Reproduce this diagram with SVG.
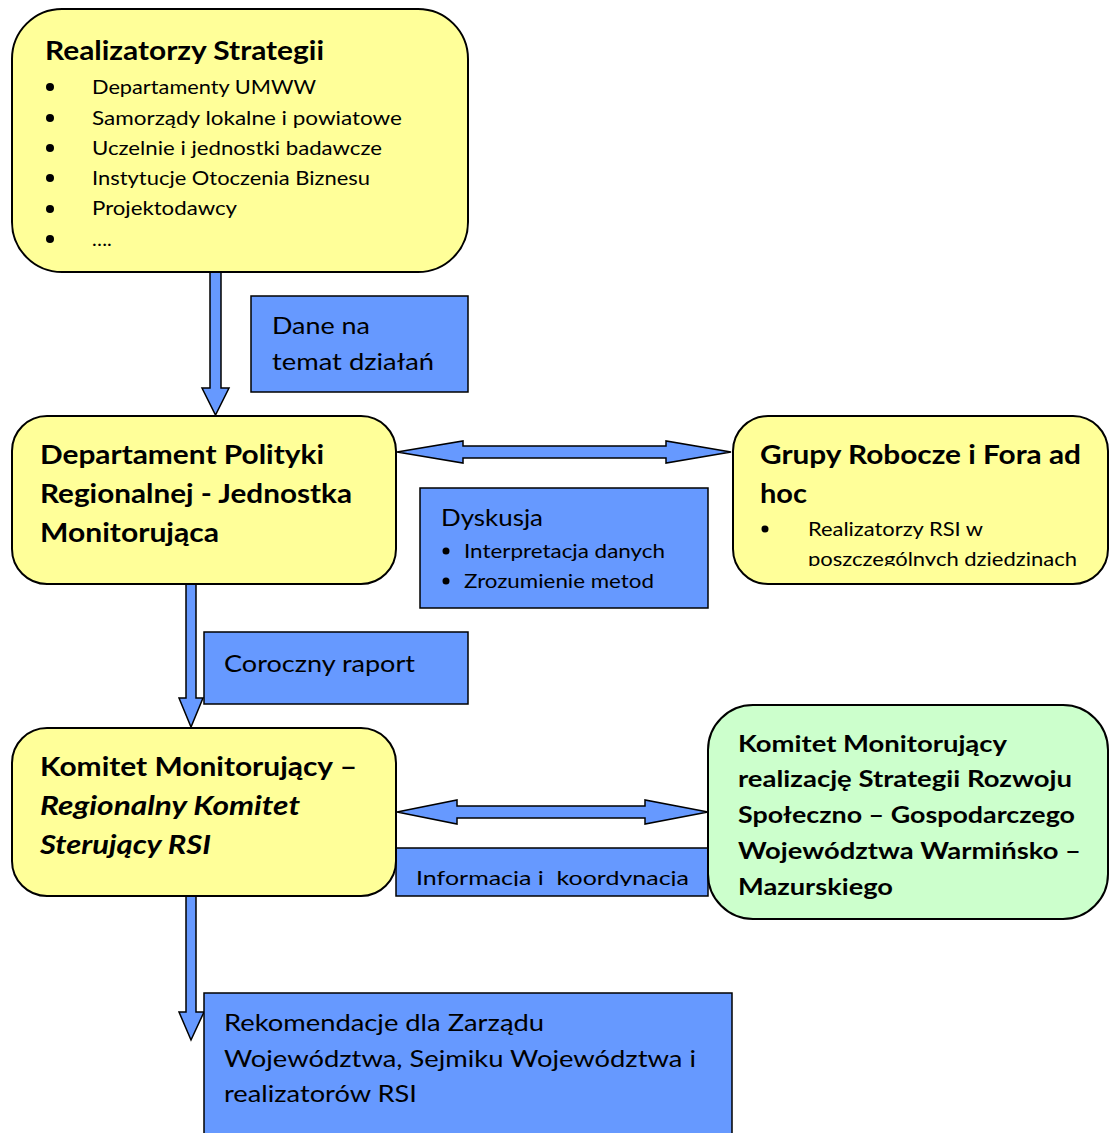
<svg xmlns="http://www.w3.org/2000/svg" width="1109" height="1133" viewBox="0 0 1109 1133">
<style>
.y{fill:#FFFF99;stroke:#000;stroke-width:2}
.g{fill:#CCFFCC;stroke:#000;stroke-width:2}
.b{fill:#6699FF;stroke:#000;stroke-width:1.5}
.ar{fill:#6699FF;stroke:#000;stroke-width:1.5;stroke-linejoin:miter}
text{font-family:Lato,"Open Sans","DejaVu Sans",sans-serif;fill:#000}
.t{font-weight:bold;font-size:26px}
.ti{font-weight:bold;font-style:italic;font-size:26px}
.l{font-size:20px}
.m{font-size:23px}
.gt{font-weight:bold;font-size:23px}
</style>
<defs>
<clipPath id="c3"><rect x="700" y="400" width="409" height="166"/></clipPath>
<clipPath id="c6"><rect x="380" y="840" width="340" height="46"/></clipPath>
</defs>
<g id="connectors">
<polygon class="ar" points="210,272 221,272 221,388 229,388 215.5,415 202,388 210,388"/>
<polygon class="ar" points="186,584 196,584 196,698 203,698 191,727 179,698 186,698"/>
<polygon class="ar" points="186,896 196,896 196,1012 204,1012 191,1040 179,1012 186,1012"/>
<polygon class="ar" points="397,452 463,441 463,446 666,446 666,441 731,452 666,463 666,458 463,458 463,463"/>
<polygon class="ar" points="397,812 457,800 457,806 645,806 645,800 708,812 645,824 645,818 457,818 457,824"/>
</g>
<g id="realizatorzy">
<rect class="y" x="12" y="9" width="456" height="263" rx="50" ry="50"/>
<text class="t" x="45" y="60" textLength="279" lengthAdjust="spacingAndGlyphs">Realizatorzy Strategii</text>
<g>
<circle cx="50" cy="87" r="4"/><circle cx="50" cy="118" r="4"/><circle cx="50" cy="148" r="4"/>
<circle cx="50" cy="178" r="4"/><circle cx="50" cy="209" r="4"/><circle cx="50" cy="239" r="4"/>
</g>
<text class="l" x="92" y="94" textLength="224" lengthAdjust="spacingAndGlyphs">Departamenty UMWW</text>
<text class="l" x="92" y="125" textLength="310" lengthAdjust="spacingAndGlyphs">Samorządy lokalne i powiatowe</text>
<text class="l" x="92" y="155" textLength="290" lengthAdjust="spacingAndGlyphs">Uczelnie i jednostki badawcze</text>
<text class="l" x="92" y="185" textLength="278" lengthAdjust="spacingAndGlyphs">Instytucje Otoczenia Biznesu</text>
<text class="l" x="92" y="215" textLength="145" lengthAdjust="spacingAndGlyphs">Projektodawcy</text>
<text class="l" x="92" y="246">….</text>
</g>
<g id="dane">
<rect class="b" x="251" y="296" width="217" height="96"/>
<text class="m" x="272" y="334" textLength="98" lengthAdjust="spacingAndGlyphs">Dane na</text>
<text class="m" x="272" y="370" textLength="162" lengthAdjust="spacingAndGlyphs">temat działań</text>
</g>
<g id="departament">
<rect class="y" x="12" y="416" width="384" height="168" rx="35" ry="35"/>
<text class="t" x="40" y="464" textLength="284" lengthAdjust="spacingAndGlyphs">Departament Polityki</text>
<text class="t" x="40" y="503" textLength="312" lengthAdjust="spacingAndGlyphs">Regionalnej - Jednostka</text>
<text class="t" x="40" y="542" textLength="179" lengthAdjust="spacingAndGlyphs">Monitorująca</text>
</g>
<g id="dyskusja">
<rect class="b" x="420" y="488" width="288" height="120"/>
<text class="m" x="441" y="526" textLength="102" lengthAdjust="spacingAndGlyphs">Dyskusja</text>
<circle cx="446" cy="551" r="3.5"/><circle cx="446" cy="581" r="3.5"/>
<text class="l" x="464" y="558" textLength="201" lengthAdjust="spacingAndGlyphs">Interpretacja danych</text>
<text class="l" x="464" y="588" textLength="190" lengthAdjust="spacingAndGlyphs">Zrozumienie metod</text>
</g>
<g id="grupy">
<rect class="y" x="733" y="416" width="375" height="168" rx="35" ry="35"/>
<text class="t" x="760" y="464" textLength="321" lengthAdjust="spacingAndGlyphs">Grupy Robocze i Fora ad</text>
<text class="t" x="760" y="503" textLength="47" lengthAdjust="spacingAndGlyphs">hoc</text>
<circle cx="765" cy="529" r="3.5"/>
<g clip-path="url(#c3)">
<text class="l" x="808" y="536" textLength="175" lengthAdjust="spacingAndGlyphs">Realizatorzy RSI w</text>
<text class="l" x="808" y="566" textLength="269" lengthAdjust="spacingAndGlyphs">poszczególnych dziedzinach</text>
</g>
</g>
<g id="coroczny">
<rect class="b" x="204" y="632" width="264" height="72"/>
<text class="m" x="224" y="672" textLength="191" lengthAdjust="spacingAndGlyphs">Coroczny raport</text>
</g>
<g id="informacja">
<rect class="b" x="396" y="848" width="312" height="48"/>
<g clip-path="url(#c6)">
<text class="l" x="416" y="885" textLength="273" lengthAdjust="spacingAndGlyphs" xml:space="preserve">Informacja i  koordynacja</text>
</g>
</g>
<g id="komitet">
<rect class="y" x="12" y="728" width="384" height="168" rx="35" ry="35"/>
<text class="t" x="40" y="776" textLength="317" lengthAdjust="spacingAndGlyphs">Komitet Monitorujący –</text>
<text class="ti" x="40" y="815" textLength="260" lengthAdjust="spacingAndGlyphs">Regionalny Komitet</text>
<text class="ti" x="40" y="854" textLength="171" lengthAdjust="spacingAndGlyphs">Sterujący RSI</text>
</g>
<g id="komitet-srsg">
<rect class="g" x="708" y="705" width="400" height="214" rx="45" ry="45"/>
<text class="gt" x="738" y="752" textLength="269" lengthAdjust="spacingAndGlyphs">Komitet Monitorujący</text>
<text class="gt" x="738" y="787" textLength="334" lengthAdjust="spacingAndGlyphs">realizację Strategii Rozwoju</text>
<text class="gt" x="738" y="823" textLength="337" lengthAdjust="spacingAndGlyphs">Społeczno – Gospodarczego</text>
<text class="gt" x="738" y="859" textLength="343" lengthAdjust="spacingAndGlyphs">Województwa Warmińsko –</text>
<text class="gt" x="738" y="895" textLength="155" lengthAdjust="spacingAndGlyphs">Mazurskiego</text>
</g>
<g id="rekomendacje">
<rect class="b" x="204" y="993" width="528" height="145"/>
<text class="m" x="224" y="1031" textLength="320" lengthAdjust="spacingAndGlyphs">Rekomendacje dla Zarządu</text>
<text class="m" x="224" y="1067" textLength="472" lengthAdjust="spacingAndGlyphs">Województwa, Sejmiku Województwa i</text>
<text class="m" x="224" y="1102" textLength="193" lengthAdjust="spacingAndGlyphs">realizatorów RSI</text>
</g>
</svg>
